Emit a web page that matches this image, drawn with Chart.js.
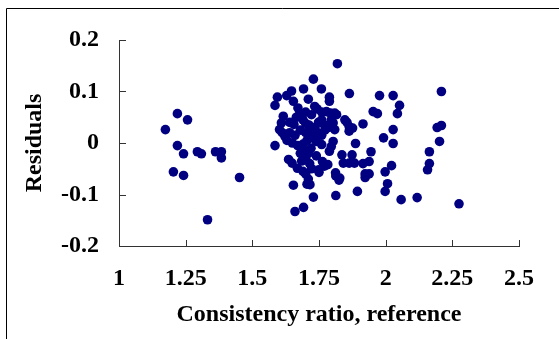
<!DOCTYPE html>
<html>
<head>
<meta charset="utf-8">
<script src="https://cdn.jsdelivr.net/npm/chart.js@4/dist/chart.umd.min.js"></script>
<style>
  html, body { margin: 0; padding: 0; background: #fff; }
  canvas { display: block; }
</style>
</head>
<body>
<canvas id="grafico" width="559" height="339"></canvas>
<script>
// Consistency ratio (reference) on x, residuals on y
const ratios = [
  1.219, 1.257, 1.174, 1.219, 1.242, 1.294, 1.309, 1.362, 1.384, 1.384, 1.204, 1.242, 1.452, 1.332,
  1.819, 1.729, 1.692, 1.759, 1.864, 1.647, 1.629, 1.594, 1.585, 1.789, 1.789, 1.710, 1.654, 1.671,
  1.734, 1.743, 1.760, 1.678, 1.700, 1.722, 1.793, 1.809, 1.816, 1.778, 1.847, 1.855, 1.616, 1.609,
  1.602, 1.612, 1.640, 1.656, 1.665, 1.690, 1.700, 1.712, 1.720, 1.735, 1.748, 1.760, 1.770, 1.745,
  1.760, 1.772, 1.785, 1.803, 1.809, 1.796, 1.863, 1.876, 1.863, 1.700, 1.680, 1.660, 1.640, 1.622,
  1.630, 1.585, 1.650, 1.670, 1.690, 1.705, 1.725, 1.740, 1.760, 1.803, 1.796, 1.789, 1.887, 1.836,
  1.874, 1.841, 1.863, 1.883, 1.763, 1.783, 1.749, 1.812, 1.828, 1.636, 1.649, 1.669, 1.680, 1.695,
  1.710, 1.720, 1.685, 1.700, 1.715, 1.690, 1.700, 1.710, 1.716, 1.705, 1.722, 1.740, 1.654, 1.729,
  1.813, 1.894, 1.692, 1.660, 1.825, 1.813, 1.750, 1.770,
  1.977, 2.028, 2.052, 2.044, 1.953, 1.969, 1.915, 2.028, 1.992, 2.028, 1.945, 1.915, 1.938, 2.022,
  1.998, 1.923, 1.938, 1.923, 2.007, 1.998, 2.058, 2.118, 2.275, 2.209, 2.193, 2.209, 2.202, 2.164,
  2.164, 2.157
];
const residuals = [
  0.057, 0.045, 0.026, -0.005, -0.021, -0.017, -0.021, -0.017, -0.017, -0.029, -0.056, -0.063, -0.067, -0.149,
  0.154, 0.124, 0.105, 0.105, 0.096, 0.101, 0.092, 0.089, 0.073, 0.089, 0.081, 0.085, 0.081, 0.068,
  0.071, 0.066, 0.060, 0.058, 0.060, 0.055, 0.058, 0.058, 0.055, 0.061, 0.045, 0.040, 0.052, 0.039,
  0.026, 0.020, 0.040, 0.036, 0.050, 0.045, 0.038, 0.035, 0.025, 0.030, 0.040, 0.045, 0.035, 0.020,
  0.015, 0.025, 0.030, 0.039, 0.026, 0.045, 0.032, 0.029, 0.023, 0.020, 0.025, 0.015, 0.020, 0.013,
  0.005, -0.005, 0.000, -0.005, -0.002, 0.005, 0.010, 0.003, -0.003, 0.003, -0.007, -0.016, -0.001, -0.023,
  -0.023, -0.039, -0.039, -0.039, -0.036, -0.042, -0.052, -0.058, -0.068, -0.032, -0.039, -0.049, -0.020, -0.015,
  -0.020, -0.010, -0.035, -0.030, -0.040, -0.055, -0.060, -0.070, -0.081, -0.080, -0.050, -0.025, -0.082, -0.105,
  -0.102, -0.094, -0.125, -0.133, -0.072, -0.064, -0.057, -0.045,
  0.092, 0.092, 0.073, 0.057, 0.061, 0.057, 0.037, 0.026, 0.010, -0.001, -0.017, -0.040, -0.036, -0.044,
  -0.056, -0.060, -0.060, -0.067, -0.079, -0.094, -0.110, -0.106, -0.118, 0.100, 0.030, 0.034, 0.003, -0.017,
  -0.040, -0.052
];

const xTicks = [1, 1.25, 1.5, 1.75, 2, 2.25, 2.5];
const xTickLabels = ['1', '1.25', '1.5', '1.75', '2', '2.25', '2.5'];
const yTicks = [-0.2, -0.1, 0, 0.1, 0.2];
const yTickLabels = ['-0.2', '-0.1', '0', '0.1', '0.2'];

const fuente = { family: 'Liberation Serif', size: 24, weight: 'bold' };

// Marco exterior y marcas de eje hacia dentro
const marcasInternas = {
  id: 'marcasInternas',
  afterDraw(chart) {
    const ctx = chart.ctx;
    const sx = chart.scales.x;
    const sy = chart.scales.y;
    ctx.save();
    ctx.strokeStyle = '#333';
    ctx.lineWidth = 1;
    ctx.beginPath();
    xTicks.forEach(v => {
      const px = Math.round(sx.getPixelForValue(v)) + 0.5;
      ctx.moveTo(px, sy.bottom);
      ctx.lineTo(px, sy.bottom - 6);
    });
    yTicks.forEach(v => {
      const py = Math.round(sy.getPixelForValue(v)) + 0.5;
      ctx.moveTo(sx.left, py);
      ctx.lineTo(sx.left + 7, py);
    });
    ctx.stroke();

    ctx.strokeStyle = '#000';
    ctx.beginPath();
    ctx.moveTo(6.5, chart.height);
    ctx.lineTo(6.5, 8.5);
    ctx.lineTo(chart.width, 8.5);
    ctx.stroke();
    ctx.restore();
  }
};

const grafico = new Chart(document.getElementById('grafico').getContext('2d'), {
  type: 'scatter',
  data: {
    datasets: [{
      data: ratios.map((x, i) => ({ x: x, y: residuals[i] })),
      backgroundColor: '#000080',
      borderWidth: 0,
      pointRadius: 4.8,
    }],
  },
  options: {
    responsive: false,
    animation: false,
    layout: { padding: { top: 40, right: 40, left: 0, bottom: 0 } },
    plugins: {
      legend: { display: false },
      tooltip: { enabled: false },
    },
    scales: {
      x: {
        type: 'linear',
        min: 1,
        max: 2.5,
        afterBuildTicks: s => { s.ticks = xTicks.map(v => ({ value: v })); },
        afterFit: s => { s.height = 93; },
        grid: { display: false, drawTicks: false },
        border: { display: true, color: '#333', width: 1 },
        ticks: {
          callback: (v, i) => xTickLabels[i],
          font: fuente,
          color: '#000',
          padding: 18,
          maxRotation: 0,
          autoSkip: false,
        },
        title: {
          display: true,
          text: 'Consistency ratio, reference',
          font: fuente,
          color: '#000',
          padding: { top: 0, bottom: 10 },
        },
      },
      y: {
        type: 'linear',
        min: -0.2,
        max: 0.2,
        afterBuildTicks: s => { s.ticks = yTicks.map(v => ({ value: v })); },
        afterFit: s => { s.width = 119; },
        grid: { display: false, drawTicks: false },
        border: { display: true, color: '#333', width: 1 },
        ticks: {
          callback: (v, i) => yTickLabels[i],
          font: fuente,
          color: '#000',
          padding: 20,
          autoSkip: false,
        },
        title: {
          display: true,
          text: 'Residuals',
          font: fuente,
          color: '#000',
          padding: { top: 20, bottom: 0 },
        },
      },
    },
  },
  plugins: [marcasInternas],
});
</script>
</body>
</html>
